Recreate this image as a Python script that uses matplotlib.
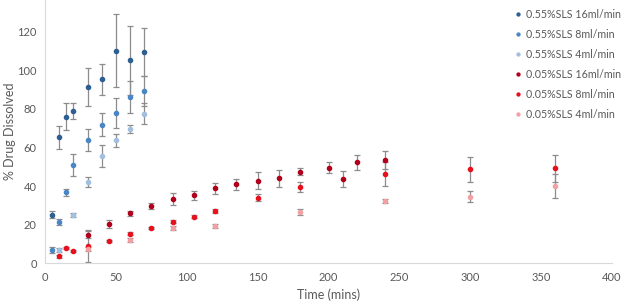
import matplotlib
matplotlib.use("Agg")
import matplotlib.pyplot as plt

# ---- data ----
t_55_16 = [5, 10, 15, 20, 30, 40, 50, 60, 70]
y_55_16 = [25.2, 65.3, 76.0, 79.0, 91.2, 95.3, 110.2, 105.2, 109.6]
e_55_16 = [1.9, 6.0, 6.9, 4.3, 9.8, 8.1, 18.8, 18.0, 12.3]

t_55_8 = [5, 10, 15, 20, 30, 40, 50, 60, 70]
y_55_8 = [6.7, 21.2, 36.8, 50.9, 63.9, 71.8, 78.0, 86.2, 89.3]
e_55_8 = [1.5, 1.5, 1.9, 5.5, 5.7, 6.0, 7.7, 8.2, 7.8]

t_55_4 = [10, 20, 30, 40, 50, 60, 70]
y_55_4 = [6.7, 25.2, 42.1, 55.6, 63.7, 69.7, 77.5]
e_55_4 = [1.0, 1.0, 2.4, 5.8, 3.3, 2.0, 5.4]

t_05_16 = [30, 45, 60, 75, 90, 105, 120, 135, 150, 165, 180, 200, 210, 220, 240]
y_05_16 = [14.8, 20.2, 25.9, 29.5, 33.2, 35.2, 38.9, 40.9, 42.8, 44.0, 47.5, 49.5, 43.7, 52.3, 53.4]
e_05_16 = [1.9, 2.0, 1.2, 1.6, 3.1, 2.3, 2.8, 2.8, 4.3, 4.5, 1.9, 2.8, 4.2, 3.8, 4.6]

t_05_8 = [10, 15, 20, 30, 45, 60, 75, 90, 105, 120, 150, 180, 240, 300, 360]
y_05_8 = [3.6, 7.9, 6.4, 8.8, 11.5, 15.3, 18.3, 21.6, 24.2, 27.3, 34.0, 39.5, 46.3, 48.7, 49.2]
e_05_8 = [0.6, 0.6, 0.6, 8.3, 0.6, 0.8, 0.6, 0.8, 0.8, 1.0, 1.9, 2.8, 6.2, 6.4, 6.9]

t_05_4 = [30, 60, 90, 120, 180, 240, 300, 360]
y_05_4 = [7.3, 12.1, 18.5, 19.3, 26.4, 32.3, 34.5, 40.0]
e_05_4 = [1.0, 1.0, 1.0, 1.0, 1.5, 1.2, 2.8, 6.2]

labels = ["0.55%SLS 16ml/min", "0.55%SLS 8ml/min", "0.55%SLS 4ml/min",
          "0.05%SLS 16ml/min", "0.05%SLS 8ml/min", "0.05%SLS 4ml/min"]
colors = ["#2E5F93", "#4A86C5", "#A3BFDF", "#B0001C", "#E8101C", "#F2A0A4"]

x_ticks = [0, 50, 100, 150, 200, 250, 300, 350, 400]
y_ticks = [0, 20, 40, 60, 80, 100, 120]

plt.rcParams['font.family'] = ['Lato', 'DejaVu Sans']

fig = plt.figure(figsize=(6.24, 3.07), dpi=100)
ax = fig.add_axes([45/624, (307-263.3)/307, (612-45)/624, 263.3/307])

series = [(t_55_16, y_55_16, e_55_16), (t_55_8, y_55_8, e_55_8), (t_55_4, y_55_4, e_55_4),
          (t_05_16, y_05_16, e_05_16), (t_05_8, y_05_8, e_05_8), (t_05_4, y_05_4, e_05_4)]

handles = []
for (t, y, e), c, lab in zip(series, colors, labels):
    h, = ax.plot(t, y, 'o', color=c, ms=3.0, mec=c, label=lab, zorder=3)
    ax.errorbar(t, y, yerr=e, fmt='none', ecolor='#8C8C8C', elinewidth=0.9,
                capsize=2.0, capthick=0.9, zorder=2)
    handles.append(h)

ax.set_xlim(0, 400)
ax.set_ylim(0, 263.3/1.93)
ax.set_xticks(x_ticks)
ax.set_yticks(y_ticks)
ax.tick_params(axis='both', length=0, labelsize=8, colors='#595959', pad=6)
for s in ['top', 'right']:
    ax.spines[s].set_visible(False)
ax.spines['left'].set_color('#D9D9D9')
ax.spines['bottom'].set_color('#D9D9D9')

ax.set_xlabel("Time (mins)", fontsize=9, color='#595959', labelpad=4)
ax.set_ylabel("% Drug Dissolved", fontsize=9, color='#595959')
ax.yaxis.set_label_coords((16 - 45) / 567, 0.5)

leg = fig.legend(handles=handles, loc='upper left', bbox_to_anchor=(507/624, 1.0),
                 frameon=False, fontsize=7.7, labelcolor='#595959', handlelength=0.4,
                 handletextpad=0.6, markerscale=0.7, labelspacing=0.85, borderpad=0.3)

fig.savefig("out.png", dpi=100)
